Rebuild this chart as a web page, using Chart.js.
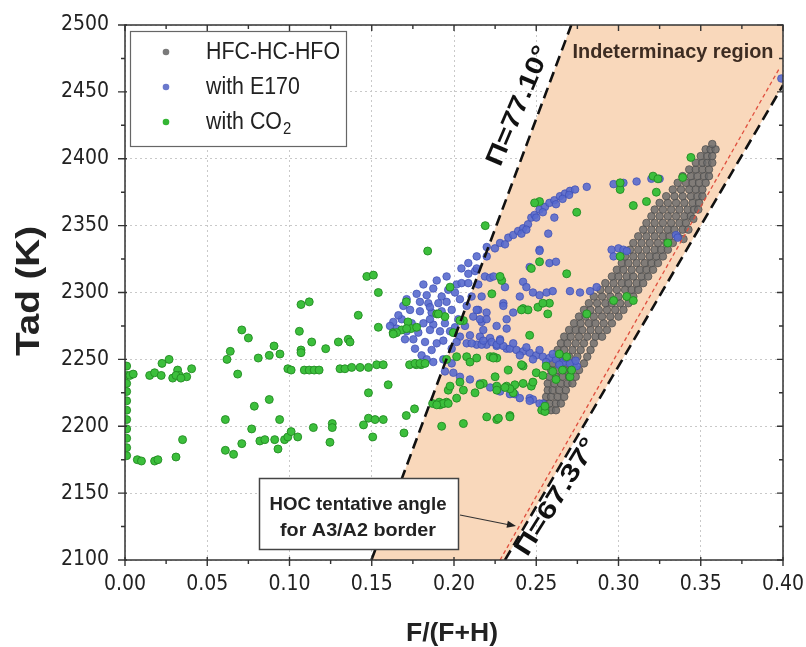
<!DOCTYPE html>
<html><head><meta charset="utf-8">
<script src="https://cdn.jsdelivr.net/npm/chart.js@4.4.0/dist/chart.umd.min.js"></script>
<style>html,body{margin:0;padding:0;background:#fff;}canvas{display:block;}</style>
</head><body>
<canvas id="c" width="806" height="647"></canvas>
<script>
// ---------------- data ----------------
const xTickValues = [0,0.05,0.10,0.15,0.20,0.25,0.30,0.35,0.40];
const xTickLabels = ['0.00','0.05','0.10','0.15','0.20','0.25','0.30','0.35','0.40'];
const yTickValues = [2100,2150,2200,2250,2300,2350,2400,2450,2500];
const yTickLabels = ['2100','2150','2200','2250','2300','2350','2400','2450','2500'];
const xMinorTicks = [0.025,0.075,0.125,0.175,0.225,0.275,0.325,0.375];
const yMinorTicks = [2125,2175,2225,2275,2325,2375,2425,2475];
const seriesNames = ['HFC-HC-HFO','with E170','with CO'];

// indeterminacy region (F, Tad) vertices and boundary lines
const regionF = [0.1498,0.2713,0.400,0.400,0.231];
const regionT = [2100,2500,2500,2455,2100];
const line7710F = [0.1498,0.2713]; const line7710T = [2100,2500];
const line6737F = [0.231,0.400];   const line6737T = [2100,2455];
const hocLineF = [0.228,0.398];    const hocLineT = [2100,2468];

const grayPoints = [
[0.256,2212],[0.259,2212],[0.262,2212],
[0.255,2217],[0.258,2217],[0.262,2217],[0.265,2217],
[0.256,2222],[0.259,2222],[0.263,2222],[0.267,2222],
[0.257,2227],[0.260,2227],[0.264,2227],[0.268,2227],
[0.257,2232],[0.261,2232],[0.265,2232],[0.269,2232],[0.272,2232],
[0.258,2237],[0.262,2237],[0.266,2237],[0.270,2237],[0.274,2237],
[0.259,2242],[0.263,2242],[0.267,2242],[0.271,2242],[0.276,2242],
[0.260,2247],[0.264,2247],[0.268,2247],[0.273,2247],[0.279,2247],
[0.262,2252],[0.266,2252],[0.270,2252],[0.275,2252],[0.281,2252],
[0.263,2257],[0.267,2257],[0.272,2257],[0.277,2257],[0.283,2257],
[0.265,2262],[0.269,2262],[0.274,2262],[0.279,2262],[0.285,2262],
[0.267,2267],[0.271,2267],[0.276,2267],[0.281,2267],[0.286,2267],[0.290,2267],
[0.270,2272],[0.274,2272],[0.278,2272],[0.283,2272],[0.288,2272],[0.293,2272],
[0.273,2277],[0.277,2277],[0.282,2277],[0.286,2277],[0.291,2277],[0.296,2277],
[0.276,2282],[0.280,2282],[0.285,2282],[0.290,2282],[0.295,2282],[0.300,2282],
[0.279,2287],[0.283,2287],[0.288,2287],[0.293,2287],[0.298,2287],[0.303,2287],
[0.282,2292],[0.287,2292],[0.292,2292],[0.296,2292],[0.301,2292],[0.306,2292],
[0.285,2297],[0.290,2297],[0.295,2297],[0.300,2297],[0.305,2297],[0.309,2297],
[0.289,2302],[0.294,2302],[0.299,2302],[0.304,2302],[0.308,2302],[0.312,2302],
[0.292,2307],[0.297,2307],[0.302,2307],[0.306,2307],[0.311,2307],[0.315,2307],
[0.296,2312],[0.300,2312],[0.305,2312],[0.309,2312],[0.314,2312],[0.318,2312],
[0.299,2317],[0.303,2317],[0.308,2317],[0.313,2317],[0.317,2317],[0.321,2317],
[0.302,2322],[0.306,2322],[0.311,2322],[0.316,2322],[0.320,2322],[0.324,2322],
[0.304,2327],[0.309,2327],[0.314,2327],[0.319,2327],[0.323,2327],[0.327,2327],
[0.307,2332],[0.312,2332],[0.317,2332],[0.322,2332],[0.326,2332],[0.330,2332],
[0.309,2337],[0.314,2337],[0.319,2337],[0.324,2337],[0.329,2337],[0.333,2337],
[0.312,2342],[0.317,2342],[0.322,2342],[0.327,2342],[0.331,2342],[0.336,2342],
[0.315,2347],[0.320,2347],[0.325,2347],[0.330,2347],[0.334,2347],[0.339,2347],
[0.317,2352],[0.322,2352],[0.327,2352],[0.332,2352],[0.337,2352],[0.341,2352],
[0.320,2357],[0.325,2357],[0.330,2357],[0.335,2357],[0.340,2357],[0.344,2357],
[0.322,2362],[0.327,2362],[0.332,2362],[0.337,2362],[0.342,2362],[0.346,2362],
[0.325,2367],[0.330,2367],[0.335,2367],[0.340,2367],[0.345,2367],[0.349,2367],
[0.329,2372],[0.334,2372],[0.339,2372],[0.344,2372],[0.348,2372],[0.351,2372],
[0.333,2377],[0.338,2377],[0.343,2377],[0.347,2377],[0.351,2377],
[0.336,2382],[0.341,2382],[0.345,2382],[0.349,2382],[0.353,2382],
[0.339,2387],[0.344,2387],[0.348,2387],[0.352,2387],[0.355,2387],
[0.343,2392],[0.347,2392],[0.351,2392],[0.355,2392],
[0.347,2397],[0.351,2397],[0.354,2397],[0.357,2397],
[0.350,2402],[0.354,2402],[0.357,2402],
[0.353,2407],[0.356,2407],[0.359,2407],
[0.357,2411],
[0.3395,2340],[0.3425,2347],[0.3455,2355],[0.3485,2362]
];

const bluePoints = [
[0.2087,2314],[0.2128,2316],[0.2188,2312],[0.2219,2311],[0.2016,2306],[0.2046,2307],[0.2148,2306],
[0.1874,2303],[0.1965,2302],[0.2006,2300],[0.1925,2297],[0.1834,2298],
[0.1793,2293],[0.1844,2292],[0.1905,2292],[0.1955,2293],[0.2036,2295],[0.1712,2295],
[0.1733,2287],[0.1793,2286],[0.1864,2285],[0.1925,2286],[0.1986,2287],[0.2077,2290],[0.2148,2287],[0.2198,2285],
[0.1631,2278],[0.1682,2280],[0.1743,2277],[0.1814,2277],[0.1874,2276],[0.1945,2277],[0.2026,2280],[0.2117,2282],[0.2168,2278],
[0.1651,2273],[0.1712,2271],[0.1783,2270],[0.1854,2272],[0.1915,2271],[0.1976,2271],[0.2036,2267],[0.2097,2268],[0.2158,2267],[0.2219,2266],[0.2280,2265],
[0.1753,2265],[0.1824,2263],[0.1895,2262],[0.1864,2257],[0.2016,2263],[0.2077,2262],[0.2138,2261],[0.2198,2261],[0.2259,2260],[0.2320,2258],
[0.1803,2253],[0.1834,2250],[0.1874,2248],[0.1935,2250],[0.1986,2247],
[0.1662,2283],[0.1692,2290],[0.1773,2299],[0.1814,2306],[0.1895,2309],[0.1955,2312],[0.1611,2275],[0.1702,2265],[0.1763,2258],[0.1854,2280],[0.1854,2289],[0.1935,2264],[0.1986,2258],[0.2006,2274],[0.2067,2275],[0.2107,2297],[0.2168,2297],[0.2087,2307],
[0.2107,2262],[0.2168,2261],[0.2178,2264],[0.2229,2263],
[0.226,2261],[0.230,2260],[0.234,2258],[0.238,2257],[0.242,2256],[0.246,2255],[0.250,2253],[0.254,2252],[0.258,2251],[0.262,2250],[0.2665,2248],[0.2705,2247],[0.2746,2245],
[0.228,2264],[0.236,2262],[0.244,2259],[0.252,2257],[0.260,2254],[0.268,2251],[0.274,2249],
[0.240,2253],[0.248,2250],[0.256,2248],[0.264,2246],
[0.2087,2322],[0.2138,2327],[0.2138,2318],[0.2199,2334],[0.2199,2327],[0.2249,2333],[0.228,2337],[0.233,2341],[0.236,2343],[0.239,2346],[0.242,2348],[0.245,2351],[0.247,2356],[0.249,2358],[0.252,2362],[0.2553,2364],[0.258,2367],[0.261,2369],[0.2644,2372],[0.2675,2374],[0.2705,2376],[0.2736,2377],[0.2807,2379],[0.297,2381],[0.303,2382],[0.311,2383],[0.320,2385],[0.325,2385],
[0.231,2336],[0.241,2344],[0.244,2347],[0.250,2356],[0.254,2360],[0.262,2366],[0.266,2370],[0.270,2373],[0.2045,2318],
[0.261,2356],[0.2573,2344],[0.252,2332],[0.258,2322],[0.262,2323],[0.246,2319],[0.224,2312],[0.231,2304],[0.242,2308],[0.244,2304],[0.240,2297],[0.248,2300],[0.252,2298],[0.2563,2300],[0.260,2301],[0.2705,2301],[0.2766,2300],[0.2827,2301],[0.2867,2304],[0.230,2292],[0.2958,2332],[0.300,2333],[0.303,2332],[0.305,2331],[0.297,2327],[0.335,2343],[0.336,2341],[0.252,2331],
[0.2138,2287],[0.2158,2280],[0.2178,2272],[0.236,2285],[0.232,2273],[0.2300,2290],[0.2320,2280],[0.2259,2275],[0.2198,2280],
[0.246,2221],[0.248,2220],[0.237,2224],[0.254,2217],
[0.1945,2241],[0.1996,2240],[0.2036,2237],[0.2097,2235],[0.2158,2232],[0.222,2229],[0.228,2226],[0.234,2224],[0.240,2221],[0.246,2219],[0.252,2217],
[0.399,2460]
];

const greenPoints = [
[0.001,2245],[0.001,2238],[0.001,2232],[0.001,2226],[0.001,2219],[0.001,2212],[0.001,2205],[0.001,2198],[0.001,2191],[0.001,2184],[0.001,2178],
[0.003,2238],[0.005,2239],[0.015,2238],[0.018,2240],[0.022,2238],[0.0225,2247],[0.0268,2250],
[0.029,2236],[0.032,2242],[0.033,2238],[0.031,2238],[0.0375,2237],[0.0405,2243],[0.034,2236],
[0.0075,2175],[0.010,2174],[0.018,2174],[0.020,2175],[0.031,2177],[0.035,2190],
[0.061,2205],[0.061,2182],[0.066,2179],[0.062,2250],[0.064,2256],[0.071,2272],[0.075,2266],
[0.0685,2239],[0.0786,2215],[0.071,2187],[0.077,2198],[0.081,2251],[0.082,2189],[0.085,2190],
[0.0877,2220],[0.0877,2253],[0.0906,2260],[0.0942,2254],[0.091,2190],[0.093,2183],[0.094,2205],
[0.097,2190],[0.099,2192],[0.101,2196],[0.105,2192],[0.099,2243],[0.101,2242],[0.106,2271],
[0.107,2291],[0.112,2293],[0.107,2257],[0.107,2255],[0.109,2242],[0.112,2242],[0.115,2242],[0.118,2242],
[0.1135,2263],[0.1145,2199],[0.122,2258],[0.1246,2188],[0.126,2202],[0.126,2199],[0.1297,2263],
[0.1307,2243],[0.1337,2243],[0.1378,2244],[0.1429,2244],[0.148,2244],[0.1357,2265],[0.1368,2263],
[0.1418,2283],[0.147,2312],[0.151,2313],[0.145,2201],[0.148,2225],[0.148,2206],[0.154,2300],
[0.154,2274],[0.163,2270],[0.171,2293],[0.153,2246],[0.157,2246],[0.173,2246],[0.177,2246],[0.180,2246],
[0.160,2231],[0.152,2205],[0.157,2205],[0.1506,2192],[0.1696,2195],[0.171,2208],[0.176,2213],
[0.1925,2200],[0.187,2217],[0.191,2218],[0.1955,2218],[0.184,2331],[0.172,2278],[0.174,2273],
[0.1895,2284],[0.1945,2282],[0.2057,2279],[0.1996,2270],
[0.1955,2250],[0.2016,2252],[0.2077,2252],[0.2138,2251],[0.222,2252],[0.226,2251],[0.242,2245],
[0.1965,2227],[0.2057,2227],[0.2016,2221],[0.1935,2217],[0.1915,2216],
[0.2128,2225],[0.2178,2232],[0.226,2230],[0.232,2230],[0.237,2231],[0.242,2232],[0.247,2230],[0.236,2225],
[0.2199,2207],[0.226,2205],[0.234,2208],[0.2057,2202],[0.2533,2212],[0.2553,2211],
[0.219,2350],[0.252,2323],[0.247,2318],[0.2685,2314],[0.229,2309],[0.223,2299],[0.242,2288],[0.251,2289],
[0.258,2292],[0.257,2284],[0.2746,2360],[0.252,2368],[0.249,2367],
[0.344,2401],[0.321,2387],[0.324,2385],[0.301,2377],[0.301,2382],[0.309,2365],[0.317,2368],[0.323,2375],
[0.339,2386],[0.330,2337],[0.301,2327],[0.305,2297],[0.309,2294],[0.297,2294],
[0.250,2240],[0.254,2238],[0.260,2241],[0.266,2242],[0.2705,2237],[0.262,2235],[0.256,2245],
[0.264,2254],[0.2685,2252],[0.224,2252],[0.225,2237],[0.233,2242],[0.241,2246],[0.246,2268],[0.248,2233],
[0.2715,2242],[0.234,2228],[0.231,2229],[0.226,2227],[0.234,2207],[0.227,2206],[0.2553,2215],
[0.2807,2284],[0.245,2287],[0.254,2292],[0.241,2287],
[0.1682,2272],[0.1712,2273],[0.1651,2270],[0.1631,2269],[0.1773,2274],[0.1905,2284],[0.1976,2304],[0.2036,2279],
[0.1763,2247],[0.1793,2247],[0.1824,2247],[0.2097,2248],[0.2239,2251],[0.1976,2230],[0.2036,2233],[0.2158,2231],
[0.1935,2217],[0.1895,2216],[0.1965,2217],[0.228,2312]
];

// ---------------- fonts ----------------
function hasFont(name){
  const c=document.createElement('canvas').getContext('2d');
  const s='HFC-HC-HFO 0.123 Indeterminacy';
  c.font='40px monospace'; const a=c.measureText(s).width;
  c.font='40px "'+name+'", monospace'; const b=c.measureText(s).width;
  c.font='40px serif'; const a2=c.measureText(s).width;
  c.font='40px "'+name+'", serif'; const b2=c.measureText(s).width;
  return a!==b || a2!==b2;
}
let TICKFAM, TICKSIZE;
if (hasFont('Liberation Sans Narrow')) { TICKFAM='"Liberation Sans Narrow"'; TICKSIZE=23; }
else if (hasFont('DejaVu Sans Condensed')) { TICKFAM='"DejaVu Sans Condensed"'; TICKSIZE=21; }
else { TICKFAM='"Liberation Sans", Arial, sans-serif'; TICKSIZE=20; }
const TXT = '"Liberation Sans", Arial, sans-serif';

function txt(ctx, s, x, y, o){
  ctx.save(); ctx.translate(x,y); if(o.rot) ctx.rotate(o.rot);
  ctx.font=o.font; ctx.fillStyle=o.color||'#222';
  ctx.textAlign=o.align||'center'; ctx.textBaseline=o.baseline||'middle';
  let sx=1; if(o.w){ sx=o.w/ctx.measureText(s).width; }
  if(o.sx) sx=o.sx;
  ctx.scale(sx,1); ctx.fillText(s,0,0); ctx.restore();
  return sx;
}

const toXY = arr => arr.map(p=>({x:p[0],y:p[1]}));

const annot = {
  id:'annot',
  beforeDatasetsDraw(chart){
    const {ctx, chartArea:a, scales:{x,y}} = chart;
    ctx.save();
    ctx.beginPath(); ctx.rect(a.left,a.top,a.right-a.left,a.bottom-a.top); ctx.clip();
    ctx.beginPath();
    regionF.forEach((f,i)=>{const px=x.getPixelForValue(f), py=y.getPixelForValue(regionT[i]); if(i) ctx.lineTo(px,py); else ctx.moveTo(px,py);});
    ctx.closePath(); ctx.fillStyle='#f9d8bb'; ctx.fill();
    ctx.restore();
  },
  afterDatasetsDraw(chart){
    const {ctx, chartArea:a, scales:{x,y}} = chart;
    ctx.save();
    ctx.beginPath(); ctx.rect(a.left,a.top,a.right-a.left,a.bottom-a.top); ctx.clip();
    const seg=(F,T,color,w,dash)=>{ctx.beginPath();ctx.setLineDash(dash);ctx.strokeStyle=color;ctx.lineWidth=w;
      ctx.moveTo(x.getPixelForValue(F[0]),y.getPixelForValue(T[0]));ctx.lineTo(x.getPixelForValue(F[1]),y.getPixelForValue(T[1]));ctx.stroke();};
    seg(hocLineF,hocLineT,'#e0503f',1.3,[4,3]);
    seg(line7710F,line7710T,'#111',2.6,[11,6]);
    seg(line6737F,line6737T,'#111',2.6,[11,6]);
    ctx.restore();

    // frame and ticks
    ctx.save();
    ctx.strokeStyle='#333'; ctx.lineWidth=1.5; ctx.setLineDash([]);
    ctx.strokeRect(a.left,a.top,a.right-a.left,a.bottom-a.top);
    ctx.lineWidth=1.4; ctx.beginPath();
    xTickValues.forEach(v=>{const px=x.getPixelForValue(v); ctx.moveTo(px,a.bottom-3);ctx.lineTo(px,a.bottom+6); ctx.moveTo(px,a.top);ctx.lineTo(px,a.top+6);});
    xMinorTicks.forEach(v=>{const px=x.getPixelForValue(v); ctx.moveTo(px,a.bottom);ctx.lineTo(px,a.bottom+4); ctx.moveTo(px,a.top);ctx.lineTo(px,a.top+4);});
    yTickValues.forEach(v=>{const py=y.getPixelForValue(v); ctx.moveTo(a.left-7,py);ctx.lineTo(a.left+2,py); ctx.moveTo(a.right,py);ctx.lineTo(a.right-6,py);});
    yMinorTicks.forEach(v=>{const py=y.getPixelForValue(v); ctx.moveTo(a.left-4,py);ctx.lineTo(a.left,py); ctx.moveTo(a.right,py);ctx.lineTo(a.right-4,py);});
    ctx.stroke();
    ctx.restore();

    txt(ctx,'\u03A0=77.10\u00B0',519,106,{font:'bold 25px '+TXT,color:'#111',w:128,rot:-67*Math.PI/180});
    txt(ctx,'\u03A0=67.37\u00B0',557,497,{font:'bold 25px '+TXT,color:'#111',w:134,rot:-58*Math.PI/180});
    txt(ctx,'Indeterminacy region',673,52,{font:'bold 21px '+TXT,color:'#3d2c22',w:201});

    ctx.save();
    ctx.fillStyle='#fff'; ctx.fillRect(259,478,200,72);
    ctx.strokeStyle='#444'; ctx.lineWidth=1.5; ctx.strokeRect(259.5,478.5,199,71);
    ctx.strokeStyle='#333'; ctx.lineWidth=1.2; ctx.beginPath(); ctx.moveTo(460,515); ctx.lineTo(510,525); ctx.stroke();
    const ang=Math.atan2(11,56);
    ctx.translate(516,526); ctx.rotate(ang); ctx.fillStyle='#222';
    ctx.beginPath(); ctx.moveTo(0,0); ctx.lineTo(-9,-3.5); ctx.lineTo(-9,3.5); ctx.closePath(); ctx.fill();
    ctx.restore();
    txt(ctx,'HOC tentative angle',358,505,{font:'bold 19px '+TXT,color:'#222',w:177});
    txt(ctx,'for A3/A2 border',358,531,{font:'bold 19px '+TXT,color:'#222',w:156});

    txt(ctx,'Tad (K)',30,291,{font:'bold 33px '+TXT,color:'#222',w:130,rot:-Math.PI/2});
    txt(ctx,'F/(F+H)',452,634,{font:'bold 25px '+TXT,color:'#222',w:92});

    ctx.save();
    ctx.fillStyle='#fff'; ctx.fillRect(130,31,216,115);
    ctx.strokeStyle='#666'; ctx.lineWidth=1.2; ctx.strokeRect(130.5,31.5,216,115);
    const legCols=['#7a7a7a','#6a78cc','#33b533'];
    const rows=[52,87,122];
    rows.forEach((ry,i)=>{ctx.beginPath();ctx.arc(166,ry,3.3,0,Math.PI*2);ctx.fillStyle=legCols[i];ctx.fill();});
    ctx.restore();
    const sx = txt(ctx,seriesNames[0],206,rows[0]+1,{font:'23px '+TXT,color:'#222',align:'left',w:134});
    txt(ctx,seriesNames[1],206,rows[1]+1,{font:'23px '+TXT,color:'#222',align:'left',sx:sx});
    ctx.save(); ctx.font='23px '+TXT; const wCO=ctx.measureText(seriesNames[2]).width*sx; ctx.restore();
    txt(ctx,seriesNames[2],206,rows[2]+1,{font:'23px '+TXT,color:'#222',align:'left',sx:sx});
    txt(ctx,'2',206+wCO+1,rows[2]+8,{font:'16px '+TXT,color:'#222',align:'left',sx:sx});
  }
};

new Chart(document.getElementById('c'), {
  type:'scatter',
  data:{datasets:[
    {label:seriesNames[0], data:toXY(grayPoints), order:3, pointRadius:3.8, pointBackgroundColor:'rgba(108,108,108,0.85)', pointBorderColor:'rgba(75,75,75,0.9)', pointBorderWidth:0.8, clip:0},
    {label:seriesNames[1], data:toXY(bluePoints), order:2, pointRadius:3.8, pointBackgroundColor:'rgba(88,106,206,0.9)', pointBorderColor:'rgba(62,78,180,0.9)', pointBorderWidth:0.8, clip:0},
    {label:seriesNames[2]+'2', data:toXY(greenPoints), order:1, pointRadius:4, pointBackgroundColor:'#3cbf3c', pointBorderColor:'#228b22', pointBorderWidth:0.9, clip:0}
  ]},
  options:{
    responsive:false, animation:false, devicePixelRatio:1, events:[],
    layout:{padding:{left:0,right:23,top:25,bottom:0}},
    plugins:{legend:{display:false},tooltip:{enabled:false}},
    scales:{
      x:{type:'linear',min:0,max:0.4,
         afterFit(s){s.height=87; s.paddingLeft=0; s.paddingRight=0;},
         afterBuildTicks(s){s.ticks=xTickValues.map(v=>({value:v}));},
         ticks:{autoSkip:false,maxRotation:0,padding:12,color:'#222',font:{family:TICKFAM,size:TICKSIZE},
                callback:(v,i)=>xTickLabels[i]},
         grid:{color:'#c9c9c9',lineWidth:1,drawTicks:false},
         border:{display:false,dash:[2,3]}},
      y:{type:'linear',min:2100,max:2500,
         afterFit(s){s.width=125; s.paddingTop=0; s.paddingBottom=0;},
         afterBuildTicks(s){s.ticks=yTickValues.map(v=>({value:v}));},
         ticks:{autoSkip:false,padding:16,color:'#222',font:{family:TICKFAM,size:TICKSIZE},
                callback:(v,i)=>yTickLabels[i]},
         grid:{color:'#c9c9c9',lineWidth:1,drawTicks:false},
         border:{display:false,dash:[2,3]}}
    }
  },
  plugins:[annot]
});
</script>
</body></html>
